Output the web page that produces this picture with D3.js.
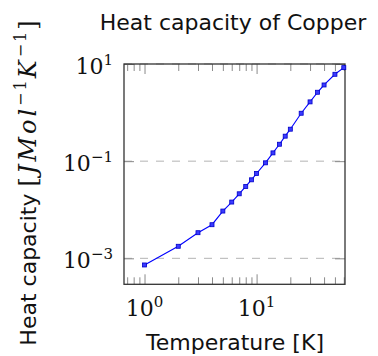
<!DOCTYPE html>
<html>
<head>
<meta charset="utf-8">
<script src="https://cdn.jsdelivr.net/npm/d3@7"></script>
<style>
  body { margin: 0; background: #fff; }
  svg { display: block; }
</style>
</head>
<body>
<div id="chart-area"></div>
<script>
// data
var temps   = [1, 2, 3, 4, 5, 6, 7, 8, 9, 10, 12, 14, 16, 18, 20, 25, 30, 35, 40, 50, 60];
var heatCap = [7.3e-4, 1.77e-3, 3.37e-3, 4.92e-3, 9.4e-3, 0.0144, 0.0213, 0.0302, 0.0413, 0.0558,
               0.0924, 0.148, 0.223, 0.327, 0.455, 0.969, 1.66, 2.62, 3.70, 6.14, 8.42];

var xMajor = [1, 10];
var xMinor = [0.7, 0.8, 0.9, 2, 3, 4, 5, 6, 7, 8, 9, 20, 30, 40, 50, 60];
var xTickExp = ["0", "1"];
var yMajor = [1e-3, 1e-1, 1e1];
var yTickExp = ["\u22123", "\u22121", "1"];

var W = 378, H = 356;
var pL = 124, pT = 64, pR = 345, pB = 284.3;

var svg = d3.select("#chart-area").append("svg")
    .attr("width", W)
    .attr("height", H);

var x = d3.scaleLog()
    .domain([0.656, 61.5])
    .range([pL, pR]);

var y = d3.scaleLog()
    .domain([2.92e-4, 10])
    .range([pB, pT]);

// dashed horizontal grid
svg.selectAll(".grid")
    .data(yMajor)
    .enter()
    .append("line")
    .attr("x1", pL)
    .attr("x2", pR)
    .attr("y1", d => y(d))
    .attr("y2", d => y(d))
    .attr("stroke", "#b4b4b4")
    .attr("stroke-width", 1)
    .attr("stroke-dasharray", "8,8");

// ticks, pointing inward on all four sides
function ticks(axis, tx, ty) {
    var g = svg.append("g")
        .attr("transform", `translate(${tx},${ty})`)
        .call(axis);
    g.select(".domain").remove();
    g.selectAll("line").attr("stroke", "#8a8a8a").attr("stroke-width", 1);
    g.selectAll("text").remove();
}
ticks(d3.axisBottom(x).tickValues(xMajor).tickSizeInner(-10).tickSizeOuter(0).tickFormat(""), 0, pB);
ticks(d3.axisBottom(x).tickValues(xMinor).tickSizeInner(-7).tickSizeOuter(0).tickFormat(""), 0, pB);
ticks(d3.axisTop(x).tickValues(xMajor).tickSizeInner(-10).tickSizeOuter(0).tickFormat(""), 0, pT);
ticks(d3.axisTop(x).tickValues(xMinor).tickSizeInner(-7).tickSizeOuter(0).tickFormat(""), 0, pT);
ticks(d3.axisLeft(y).tickValues(yMajor).tickSizeInner(-10).tickSizeOuter(0).tickFormat(""), pL, 0);
ticks(d3.axisRight(y).tickValues(yMajor).tickSizeInner(-10).tickSizeOuter(0).tickFormat(""), pR, 0);

// frame
svg.append("rect")
    .attr("x", pL)
    .attr("y", pT)
    .attr("width", pR - pL)
    .attr("height", pB - pT)
    .attr("fill", "none")
    .attr("stroke", "#333")
    .attr("stroke-width", 1.3);

// tick labels 10^n
var xl = svg.selectAll(".xlab")
    .data(xMajor)
    .enter()
    .append("text")
    .attr("x", d => x(d))
    .attr("y", 316)
    .attr("text-anchor", "middle")
    .attr("font-family", "DejaVu Serif")
    .attr("fill", "#111");
xl.append("tspan").attr("font-size", "22px").text("10");
xl.append("tspan").attr("font-size", "15px").attr("dy", -9).text((d, i) => xTickExp[i]);

var yl = svg.selectAll(".ylab")
    .data(yMajor)
    .enter()
    .append("text")
    .attr("x", 113)
    .attr("y", d => y(d) + 10)
    .attr("text-anchor", "end")
    .attr("font-family", "DejaVu Serif")
    .attr("fill", "#111");
yl.append("tspan").attr("font-size", "22px").text("10");
yl.append("tspan").attr("font-size", "15px").attr("dy", -9).text((d, i) => yTickExp[i]);

// series
var line = d3.line()
    .x((d, i) => x(temps[i]))
    .y(d => y(d));

svg.append("path")
    .datum(heatCap)
    .attr("d", line)
    .attr("fill", "none")
    .attr("stroke", "#0000ff")
    .attr("stroke-width", 1.1);

svg.selectAll(".mark")
    .data(heatCap)
    .enter()
    .append("rect")
    .attr("x", (d, i) => x(temps[i]) - 2)
    .attr("y", d => y(d) - 2)
    .attr("width", 4)
    .attr("height", 4)
    .attr("fill", "#3a3aff")
    .attr("stroke", "#0000c8")
    .attr("stroke-width", 0.8);

// title and axis labels
svg.append("text")
    .attr("x", 233)
    .attr("y", 30)
    .attr("text-anchor", "middle")
    .attr("font-family", "DejaVu Sans")
    .attr("font-size", "22px")
    .attr("fill", "#111")
    .text("Heat capacity of Copper");

svg.append("text")
    .attr("x", 235)
    .attr("y", 350)
    .attr("text-anchor", "middle")
    .attr("font-family", "DejaVu Sans")
    .attr("font-size", "22px")
    .attr("fill", "#111")
    .text("Temperature [K]");

var yt = svg.append("text")
    .attr("transform", "translate(36,183) rotate(-90)")
    .attr("text-anchor", "middle")
    .attr("font-family", "DejaVu Sans")
    .attr("font-size", "22px")
    .attr("fill", "#111");
yt.append("tspan").text("Heat capacity ");
var serif = "DejaVu Serif";
yt.append("tspan").attr("font-family", serif).attr("font-size", "24px").attr("letter-spacing", 3).text("[");
yt.append("tspan").attr("font-family", serif).attr("font-size", "24px").attr("font-style", "italic").attr("letter-spacing", 3).text("JMol");
yt.append("tspan").attr("font-family", serif).attr("font-size", "16px").attr("letter-spacing", 2).attr("dy", -10).text("\u22121");
yt.append("tspan").attr("font-family", serif).attr("font-size", "24px").attr("font-style", "italic").attr("letter-spacing", 3).attr("dy", 10).text("K");
yt.append("tspan").attr("font-family", serif).attr("font-size", "16px").attr("letter-spacing", 2).attr("dy", -10).text("\u22121");
yt.append("tspan").attr("font-family", serif).attr("font-size", "24px").attr("dy", 10).text("]");
</script>
</body>
</html>
